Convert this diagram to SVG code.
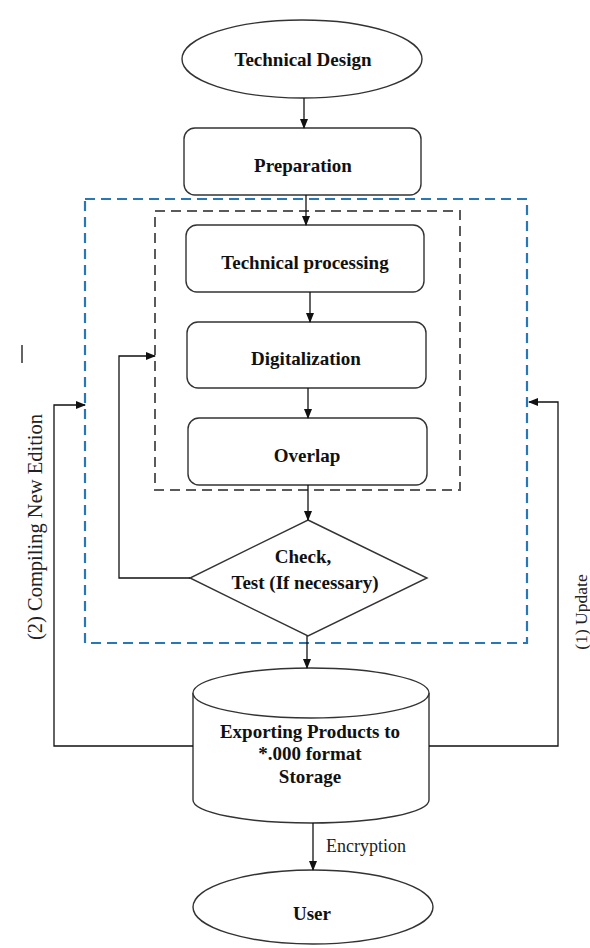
<svg xmlns="http://www.w3.org/2000/svg" width="590" height="948" viewBox="0 0 590 948">
<defs>
<marker id="ah" markerWidth="10" markerHeight="8" refX="9" refY="4" orient="auto" markerUnits="userSpaceOnUse">
<path d="M0,0 L10,4 L0,8 Z" fill="#111"/>
</marker>
<style>
.node{fill:#fff;stroke:#333;stroke-width:1.4}
.t{font-family:"Liberation Serif","Times New Roman",serif;font-weight:bold;font-size:19px;fill:#111;text-anchor:middle}
.lbl{font-family:"Liberation Serif","Times New Roman",serif;font-size:18px;fill:#222;text-anchor:middle}
.side2{font-size:20.5px}
.side1{font-size:17.5px}
.conn{fill:none;stroke:#111;stroke-width:1.3}
.arr{marker-end:url(#ah)}
</style>
</defs>
<rect width="590" height="948" fill="#fff"/>
<g id="groups">
<rect x="85" y="199" width="442" height="444" fill="none" stroke="#2878b5" stroke-width="2.2" stroke-dasharray="10,6"/>
<rect x="155" y="211" width="305" height="279" fill="none" stroke="#5a5a5a" stroke-width="2" stroke-dasharray="10,6"/>
</g>
<g id="technical-design">
<ellipse class="node" cx="302" cy="59" rx="120" ry="39"/>
<text class="t" x="303" y="66">Technical Design</text>
</g>
<g id="preparation">
<rect class="node" x="184" y="128" width="237" height="67" rx="11"/>
<text class="t" x="303" y="172">Preparation</text>
</g>
<g id="technical-processing">
<rect class="node" x="186" y="225" width="238" height="67" rx="11"/>
<text class="t" x="305" y="269">Technical processing</text>
</g>
<g id="digitalization">
<rect class="node" x="187" y="322" width="239" height="66" rx="11"/>
<text class="t" x="306" y="365">Digitalization</text>
</g>
<g id="overlap">
<rect class="node" x="188" y="418" width="239" height="67" rx="11"/>
<text class="t" x="307" y="462">Overlap</text>
</g>
<g id="check">
<polygon class="node" points="308,520 427,578 308,636 190,578"/>
<text class="t" x="303" y="563">Check,</text>
<text class="t" x="305" y="589">Test (If necessary)</text>
</g>
<g id="storage">
<path class="node" d="M193,693 L193,800 A118,23 0 0 0 429,800 L429,693"/>
<ellipse class="node" cx="311" cy="693" rx="118" ry="25"/>
<text class="t" x="310" y="738">Exporting Products to</text>
<text class="t" x="310" y="760">*.000 format</text>
<text class="t" x="310" y="783">Storage</text>
</g>
<g id="user">
<ellipse class="node" cx="313" cy="907" rx="120" ry="37"/>
<text class="t" x="312" y="920">User</text>
</g>
<g id="connectors">
<line class="conn arr" x1="304" y1="98" x2="304" y2="128"/>
<line class="conn arr" x1="306" y1="195" x2="306" y2="225"/>
<line class="conn arr" x1="310" y1="292" x2="310" y2="322"/>
<line class="conn arr" x1="308" y1="388" x2="308" y2="418"/>
<line class="conn arr" x1="308" y1="485" x2="308" y2="520"/>
<line class="conn arr" x1="307" y1="636" x2="307" y2="668"/>
<line class="conn arr" x1="313" y1="823" x2="313" y2="870"/>
<polyline class="conn arr" points="190,578 119,578 119,356 155,356"/>
<polyline class="conn arr" points="193,746 54,746 54,405 85,405"/>
<polyline class="conn arr" points="429,746 558,746 558,402 529,402"/>
<line class="conn" x1="22" y1="345" x2="22" y2="363"/>
<text class="lbl" x="366" y="852">Encryption</text>
<text class="lbl side2" transform="translate(42,527) rotate(-90)">(2) Compiling New Edition</text>
<text class="lbl side1" transform="translate(587,612) rotate(-90)">(1) Update</text>
</g>
</svg>
